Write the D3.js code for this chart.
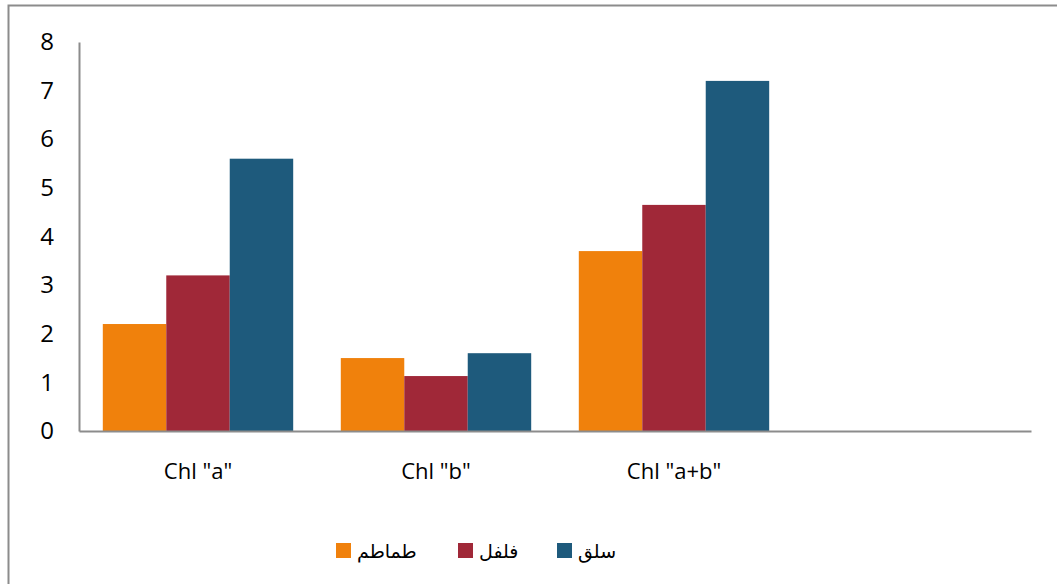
<!DOCTYPE html>
<html>
<head>
<meta charset="utf-8">
<script src="https://cdn.jsdelivr.net/npm/d3@7"></script>
<style>
  html, body { margin: 0; padding: 0; background: #fff; }
  svg { display: block; }
</style>
</head>
<body>
<svg id="chart" width="1057" height="584"></svg>
<script>
// Chlorophyll content per plant
const categories = ['Chl "a"', 'Chl "b"', 'Chl "a+b"', ''];
const seriesNames = ["طماطم", "فلفل", "سلق"];
const tomato = [2.2, 1.5, 3.7];
const pepper = [3.2, 1.13, 4.65];
const chard = [5.6, 1.6, 7.2];
const colors = ["#f0810c", "#a02838", "#1e5a7c"];
const yTicks = [0, 1, 2, 3, 4, 5, 6, 7, 8];

const series = [tomato, pepper, chard];
const svg = d3.select("#chart");
const FONT = "'Open Sans', 'Noto Sans', sans-serif";

// outer frame (only left and top edges fall inside the view)
svg.append("rect")
  .attr("x", 8.5).attr("y", 5.5)
  .attr("width", 1200).attr("height", 800)
  .attr("fill", "none").attr("stroke", "#8c8c8c").attr("stroke-width", 2);

const plotLeft = 79, plotRight = 1031, plotTop = 42, plotBottom = 431;

const x = d3.scaleBand().domain(d3.range(categories.length)).range([plotLeft, plotRight])
  .paddingInner(0.2).paddingOuter(0.1);
const xs = d3.scaleBand().domain(d3.range(series.length)).range([0, x.bandwidth()]);
const y = d3.scaleLinear().domain([0, 8]).range([plotBottom, plotTop]);

// bars
series.forEach((vals, si) => {
  svg.append("g").selectAll("rect")
    .data(vals)
    .join("rect")
    .attr("x", (d, i) => x(i) + xs(si))
    .attr("y", d => y(d))
    .attr("width", xs.bandwidth())
    .attr("height", d => y(0) - y(d))
    .attr("fill", colors[si]);
});

// y axis
const yAxis = svg.append("g")
  .attr("transform", `translate(${plotLeft},0)`)
  .call(d3.axisLeft(y).tickValues(yTicks).tickSize(0).tickPadding(25).tickFormat(d3.format("d")))
  .attr("font-family", FONT).attr("font-size", 24);
yAxis.select(".domain").attr("stroke", "#8c8c8c").attr("stroke-width", 2);
yAxis.selectAll("text").attr("fill", "#000");

// x axis
const xAxis = svg.append("g")
  .attr("transform", `translate(0,${plotBottom})`)
  .call(d3.axisBottom(d3.scaleBand().domain(d3.range(categories.length)).range([plotLeft, plotRight]))
    .tickSize(0).tickPadding(32).tickFormat(i => categories[i]))
  .attr("font-family", FONT).attr("font-size", 22);
xAxis.select(".domain").attr("stroke", "#8c8c8c").attr("stroke-width", 2);
xAxis.selectAll("text").attr("fill", "#000");

// legend
const legendItems = [
  { sq: 336, tx: 357 },
  { sq: 458, tx: 479 },
  { sq: 557, tx: 578 }
];
const lg = svg.append("g");
legendItems.forEach((it, i) => {
  lg.append("rect").attr("x", it.sq).attr("y", 543).attr("width", 15).attr("height", 15).attr("fill", colors[i]);
  lg.append("text").attr("x", it.tx).attr("y", 558)
    .attr("font-family", "'DejaVu Sans', sans-serif")
    .attr("font-size", 19).attr("fill", "#000")
    .attr("direction", "ltr")
    .text(seriesNames[i]);
});
</script>
</body>
</html>
